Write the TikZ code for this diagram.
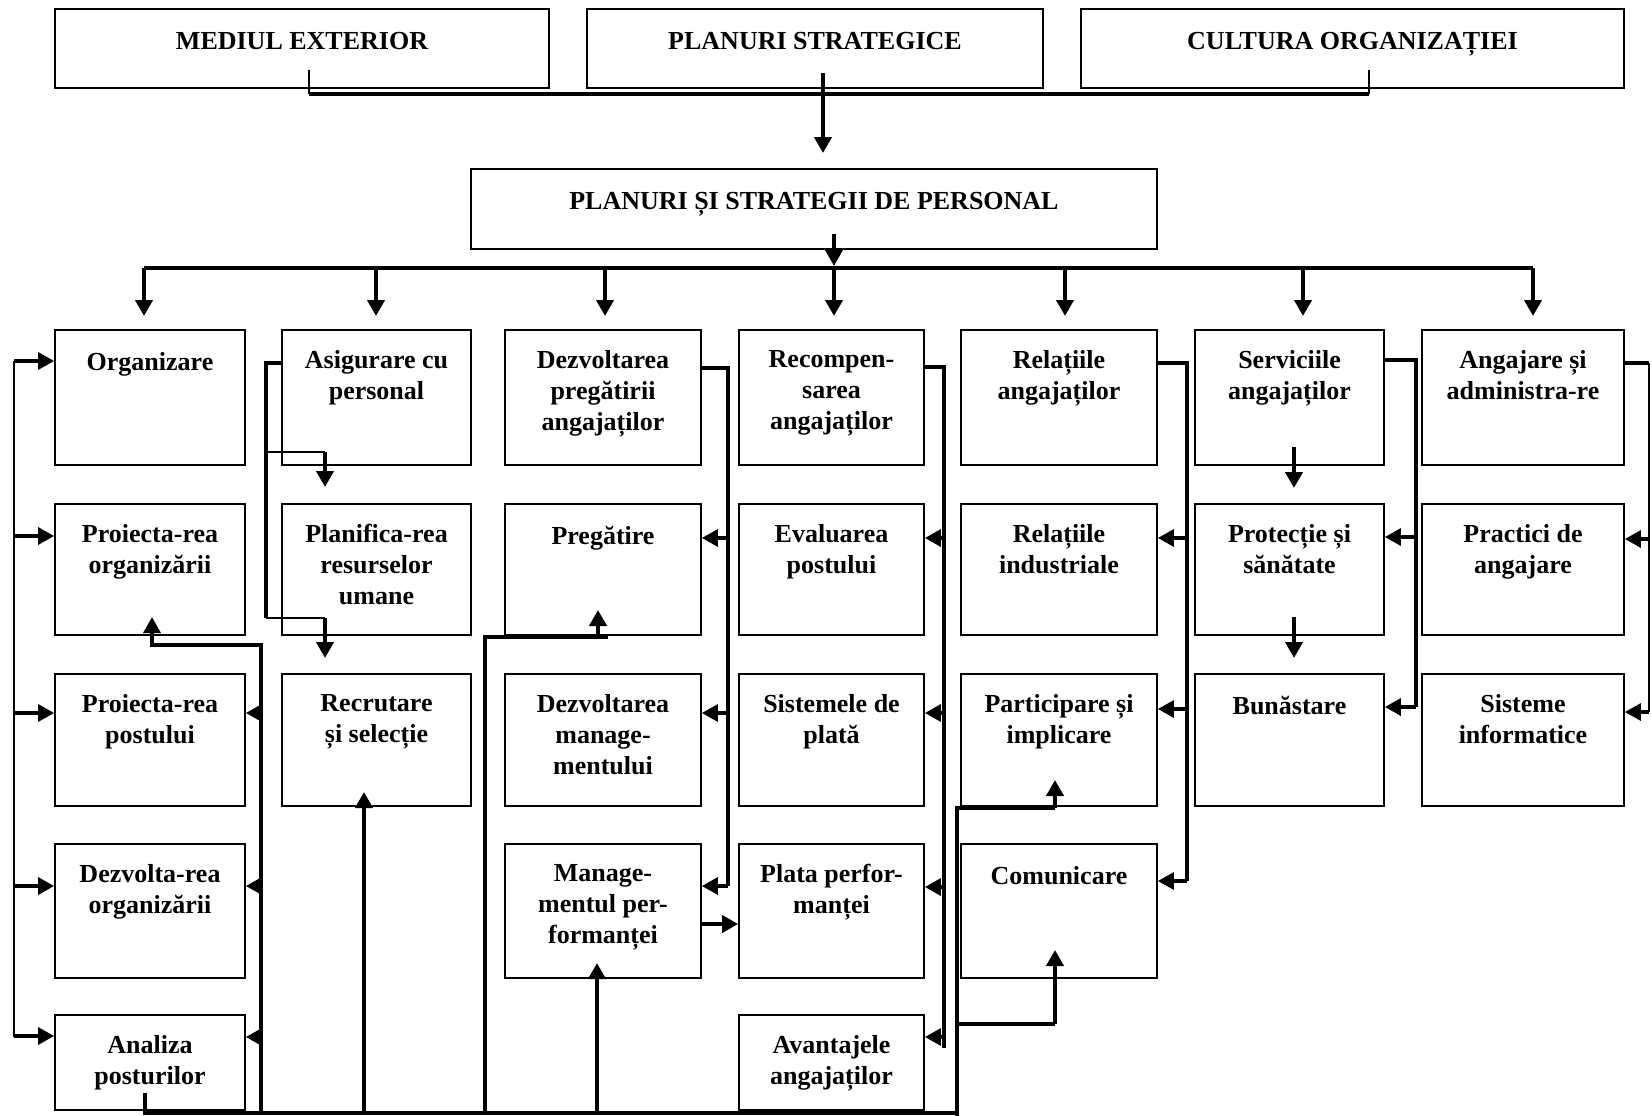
\documentclass[tikz,border=0pt]{standalone}
\usepackage{fontspec}
\setmainfont{Liberation Serif}
\usetikzlibrary{arrows.meta}
% a framed box with its text set from the top edge down
\newcommand{\cellbox}[6]{%
  \node[box, minimum width={#4-#2}, minimum height={#5-#3}] (#1) at ({(#2+#4)/2},{(#3+#5)/2}) {};
  \node[txt] (#1-t) at ({(#2+#4)/2},{#3+20}) {#6};
}
\begin{document}
\begin{tikzpicture}[x=1pt, y=-1pt,
  box/.style={draw, line width=1.8pt, rectangle, inner sep=0pt},
  txt/.style={anchor=north, align=center, inner sep=0pt,
    font=\fontsize{26}{31}\selectfont\bfseries,
    execute at begin node={\rule{0pt}{20pt}}},
  wline/.style={line width=2pt},
  mline/.style={line width=3.3pt},
  kline/.style={line width=4.5pt},
  arr/.style={-{Triangle[length=16pt,width=17pt]}},
  ]
\fill[white] (0,0) rectangle (1652,1116);
\useasboundingbox (0,0) rectangle (1652,1116);

% ---------- top level ----------
\cellbox{ext}{55}{9}{549}{88}{MEDIUL EXTERIOR}
\cellbox{strat}{587}{9}{1043}{88}{PLANURI STRATEGICE}
\cellbox{cult}{1081}{9}{1624}{88}{CULTURA ORGANIZAȚIEI}
\cellbox{pers}{471}{169}{1157}{249}{PLANURI ȘI STRATEGII DE PERSONAL}

% ---------- row 1 ----------
\cellbox{org}{55}{330}{245}{465}{Organizare}
\cellbox{asig}{282}{330}{471}{465}{Asigurare cu\\personal}
\cellbox{dezp}{505}{330}{701}{465}{Dezvoltarea\\pregătirii\\angajaților}
\cellbox{recomp}{739}{330}{924}{465}{Recompen-\\sarea\\angajaților}
\cellbox{relang}{961}{330}{1157}{465}{Relațiile\\angajaților}
\cellbox{serv}{1195}{330}{1384}{465}{Serviciile\\angajaților}
\cellbox{ang}{1422}{330}{1624}{465}{Angajare și\\administra-re}

% ---------- row 2 ----------
\cellbox{prorg}{55}{504}{245}{635}{Proiecta-rea\\organizării}
\cellbox{plan}{282}{504}{471}{635}{Planifica-rea\\resurselor\\umane}
\cellbox{preg}{505}{504}{701}{635}{Pregătire}
\cellbox{eval}{739}{504}{924}{635}{Evaluarea\\postului}
\cellbox{relind}{961}{504}{1157}{635}{Relațiile\\industriale}
\cellbox{prot}{1195}{504}{1384}{635}{Protecție și\\sănătate}
\cellbox{pract}{1422}{504}{1624}{635}{Practici de\\angajare}

% ---------- row 3 ----------
\cellbox{propost}{55}{674}{245}{806}{Proiecta-rea\\postului}
\cellbox{recr}{282}{674}{471}{806}{Recrutare\\și selecție}
\cellbox{dezm}{505}{674}{701}{806}{Dezvoltarea\\manage-\\mentului}
\cellbox{sist}{739}{674}{924}{806}{Sistemele de\\plată}
\cellbox{part}{961}{674}{1157}{806}{Participare și\\implicare}
\cellbox{buna}{1195}{674}{1384}{806}{Bunăstare}
\cellbox{sisinf}{1422}{674}{1624}{806}{Sisteme\\informatice}

% ---------- row 4 ----------
\cellbox{dezorg}{55}{844}{245}{978}{Dezvolta-rea\\organizării}
\cellbox{mgmt}{505}{844}{701}{978}{Manage-\\mentul per-\\formanței}
\cellbox{plata}{739}{844}{924}{978}{Plata perfor-\\manței}
\cellbox{com}{961}{844}{1157}{978}{Comunicare}

% ---------- row 5 ----------
\cellbox{anal}{55}{1015}{245}{1110}{Analiza\\posturilor}
\cellbox{avant}{739}{1015}{924}{1110}{Avantajele\\angajaților}

% ---------- top connectors ----------
\coordinate (ext-d) at (309,70);
\coordinate (cult-d) at (1369,70);
\coordinate (tb-l) at (309,94);
\coordinate (tb-r) at (1369,94);
\draw[wline] (ext-d) -- (tb-l);
\draw[wline] (cult-d) -- (tb-r);
\draw[kline] (tb-l) -- (tb-r);
\draw[kline,arr] (823,73) -- (823,153);

% ---------- distribution bus ----------
\draw[mline,arr] (834,234) -- (834,266);
\coordinate (bus-l) at (144,268);
\coordinate (bus-r) at (1533,268);
\draw[kline] (bus-l) -- (bus-r);
\foreach \x in {144,376,605,834,1065,1303,1533}
  \draw[kline,arr] (\x,268) -- (\x,316);

% ---------- left bracket into column 1 ----------
\draw[wline] (14,361) -- (14,1037);
\foreach \n/\y in {org/361, prorg/536, propost/713, dezorg/886, anal/1036}
  \draw[mline,arr] (14,\y) -- (\n.west |- 14,\y);

% ---------- bottom bus ----------
\draw[mline] (145,1093) -- (145,1113);
\draw[mline] (143.4,1113) -- (957,1113);

% ---------- column 1 right side ----------
\draw[mline] (261,1113) -- (261,645) -- (150,645);
\draw[mline,arr] (152,645) -- (152,617);
\foreach \n/\y in {propost/713, dezorg/886, anal/1037}
  \draw[mline,arr] (261,\y) -- (\n.east |- 261,\y);

% ---------- column 2 ----------
\draw[mline] (asig.west |- 282,363) -- (266,363) -- (266,618);
\draw[wline] (266,452) -- (325,452);
\draw[kline,arr] (325,452) -- (325,487);
\draw[wline] (266,618) -- (325,618);
\draw[kline,arr] (325,618) -- (325,658);
\draw[kline,arr] (364,1113) -- (364,792);

% ---------- column 3 ----------
\draw[kline] (485,1113) -- (485,637) -- (608,637);
\draw[kline,arr] (598,637) -- (598,610);
\draw[mline] (dezp.east |- 701,368) -- (728,368) -- (728,886);
\foreach \n/\y in {preg/538, dezm/713, mgmt/886}
  \draw[mline,arr] (728,\y) -- (\n.east |- 728,\y);
\draw[kline,arr] (597,1113) -- (597,963);
\draw[kline,arr] (mgmt.east |- 701,924) -- (plata.west |- 739,924);

% ---------- column 4 ----------
\draw[mline] (recomp.east |- 924,367) -- (944,367) -- (944,1048);
\foreach \n/\y in {eval/538, sist/713, plata/887, avant/1037}
  \draw[mline,arr] (944,\y) -- (\n.east |- 944,\y);

% ---------- column 5 ----------
\draw[mline] (957,1116) -- (957,808) -- (1055,808);
\draw[kline,arr] (1055,808) -- (1055,780);
\draw[mline] (957,1024) -- (1055,1024);
\draw[kline,arr] (1055,1024) -- (1055,950);
\draw[mline] (relang.east |- 1157,363) -- (1187,363) -- (1187,881);
\foreach \n/\y in {relind/538, part/709, com/881}
  \draw[mline,arr] (1187,\y) -- (\n.east |- 1187,\y);

% ---------- column 6 ----------
\draw[kline,arr] (1294,447) -- (1294,488);
\draw[kline,arr] (1294,617) -- (1294,658);
\draw[mline] (serv.east |- 1384,360) -- (1416,360) -- (1416,707);
\foreach \n/\y in {prot/537, buna/707}
  \draw[mline,arr] (1416,\y) -- (\n.east |- 1416,\y);

% ---------- column 7 ----------
\draw[mline] (ang.east |- 1624,363) -- (1649,363);
\draw[wline] (1649,363) -- (1649,712);
\foreach \n/\y in {pract/539, sisinf/712}
  \draw[mline,arr] (1649,\y) -- (\n.east |- 1649,\y);
\end{tikzpicture}
\end{document}
